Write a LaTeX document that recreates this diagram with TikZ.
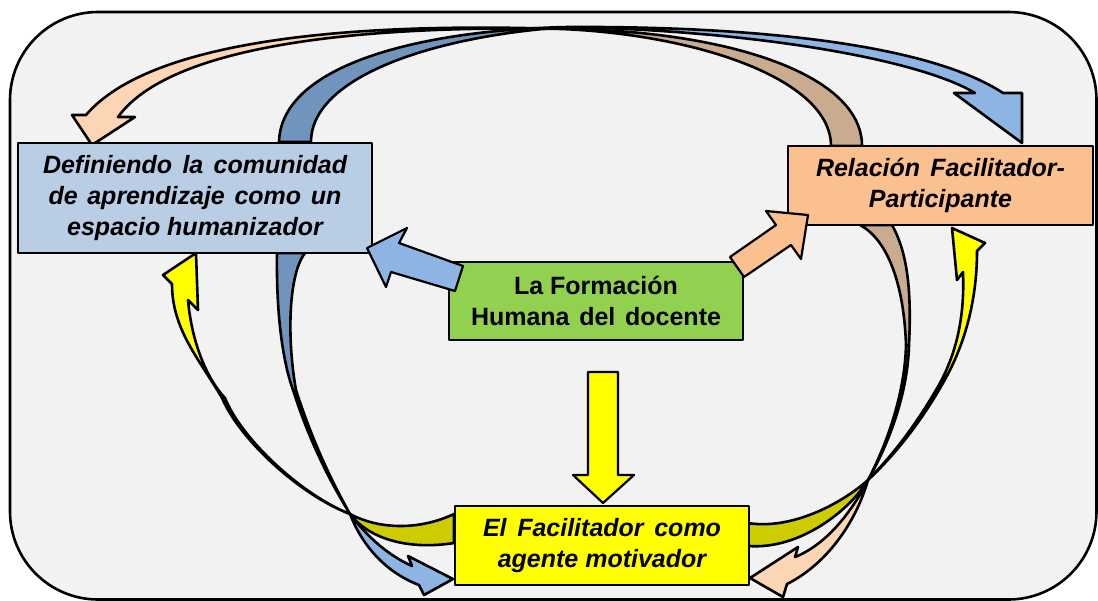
\documentclass[tikz,border=0pt]{standalone}
\usepackage{fontspec}
\setmainfont{Liberation Sans}
\usetikzlibrary{calc}

\definecolor{bggray}{HTML}{F2F2F2}
\definecolor{boxblue}{HTML}{B9CDE5}
\definecolor{boxpeach}{HTML}{FAC090}
\definecolor{boxgreen}{HTML}{92D050}
\definecolor{boxyellow}{HTML}{FFFF00}
\definecolor{frontblue}{HTML}{8EB4E3}
\definecolor{backblue}{HTML}{7194BC}
\definecolor{frontpeach}{HTML}{FCD5B5}
\definecolor{backpeach}{HTML}{C9AB90}
\definecolor{backyellow}{HTML}{CCCC00}

\newcommand{\spreadline}[2]{\makebox[#1][s]{#2}}

\begin{document}
\begin{tikzpicture}[x=1pt, y=-1pt, line join=round]
    \tikzstyle{concept}=[rectangle, draw=black, line width=1.8pt, inner sep=0pt, align=center, font=\bfseries\itshape\fontsize{25}{31}\selectfont]
    \tikzstyle{band}=[draw=black, line width=2.6pt]
    \tikzstyle{block}=[draw=black, line width=2.2pt]
    \useasboundingbox (0,0) rectangle (1098,600);
    \draw[line width=2.6pt, fill=bggray, rounded corners=88pt] (10,12) rectangle (1096.5,599.5);

    \coordinate (topknotA) at (568,27);
    \coordinate (topknotB) at (562,29);
    \coordinate (leftknot) at (350,514);
    \coordinate (rightknot) at (868,480);

    % Relacion -> Definiendo
    \filldraw[band, fill=backpeach] (831,146) .. controls (831,80) and (700,35) .. (topknotB)
        .. controls (720,30) and (862,72) .. (862,146) -- cycle;
    \filldraw[band, fill=frontpeach] (topknotB) .. controls (350,22) and (150,40) .. (86,115)
        -- (72,115) -- (92,145) -- (135,117) -- (118,117) .. controls (170,45) and (360,25) .. (topknotB) -- cycle;
    % Definiendo -> Relacion
    \filldraw[band, fill=backblue] (279,142) .. controls (281,65) and (420,30) .. (topknotA)
        .. controls (440,35) and (311,75) .. (311,142) -- cycle;
    \filldraw[band, fill=frontblue] (topknotA) .. controls (760,26) and (930,45) .. (1003,93)
        -- (1022,93) -- (1022,143) -- (954,93) -- (975,93) .. controls (920,60) and (760,31) .. (topknotA) -- cycle;
    % Facilitador -> Definiendo
    \filldraw[band, fill=backyellow] (454,514) .. controls (420,530) and (380,530) .. (leftknot)
        .. controls (370,540) and (410,550) .. (454,543) -- cycle;
    \filldraw[band, fill=boxyellow] (leftknot) .. controls (300,495) and (240,440) .. (222,398)
        .. controls (200,360) and (172,330) .. (172,284) -- (163,275) -- (196,253) -- (198,310) -- (188,300)
        .. controls (192,345) and (208,380) .. (225,398) .. controls (242,440) and (302,495) .. (leftknot) -- cycle;
    % Definiendo -> Facilitador
    \filldraw[band, fill=backblue] (277,253) .. controls (276,320) and (284,365) .. (293,390)
        .. controls (309,440) and (329,480) .. (leftknot) .. controls (331,480) and (312,440) .. (296,390)
        .. controls (287,340) and (288,275) .. (305,253) -- cycle;
    \filldraw[band, fill=frontblue] (leftknot) .. controls (370,540) and (390,556) .. (412,566)
        -- (408,556) -- (453,579) -- (424,595) -- (419,585) .. controls (385,572) and (362,545) .. (leftknot) -- cycle;
    % Facilitador -> Relacion
    \filldraw[band, fill=backyellow] (748,523) .. controls (790,530) and (840,505) .. (rightknot)
        .. controls (850,510) and (800,550) .. (748,546) -- cycle;
    \filldraw[band, fill=boxyellow] (rightknot) .. controls (900,450) and (925,415) .. (943,383)
        .. controls (965,345) and (977,300) .. (977,251) -- (985,243) -- (952,228) -- (957,280) -- (963,272)
        .. controls (965,320) and (955,355) .. (940,383) .. controls (922,415) and (898,450) .. (rightknot) -- cycle;
    % Relacion -> Facilitador
    \filldraw[band, fill=backpeach] (860,225) .. controls (888,240) and (904,285) .. (906,345)
        .. controls (905,390) and (889,440) .. (rightknot) .. controls (891,440) and (908,390) .. (909,345)
        .. controls (912,285) and (906,250) .. (892,225) -- cycle;
    \filldraw[band, fill=frontpeach] (rightknot) .. controls (850,515) and (825,545) .. (795,557)
        -- (798,547) -- (750,578) -- (783,597) -- (787,584) .. controls (825,565) and (855,525) .. (rightknot) -- cycle;

    \node[concept, fill=boxblue, minimum width=354pt, minimum height=110pt] (definiendo) at (195,198)
        {\spreadline{304pt}{Definiendo la comunidad}\\\spreadline{293pt}{de aprendizaje como un}\\espacio humanizador};
    \node[concept, fill=boxpeach, minimum width=305pt, minimum height=79pt] (relacion) at (940.5,185.5)
        {\spreadline{249pt}{Relación Facilitador-}\\Participante};
    \node[concept, fill=boxgreen, minimum width=294pt, minimum height=78pt, font=\bfseries\fontsize{25}{31}\selectfont] (formacion) at (596,301)
        {La Formación\\\spreadline{250pt}{Humana del docente}};
    \node[concept, fill=boxyellow, minimum width=294pt, minimum height=79pt] (facilitador) at (602,545.5)
        {\spreadline{238pt}{El Facilitador como}\\agente motivador};

    \filldraw[block, fill=frontblue] (463,266) -- (399,243) -- (407,228) -- (367,248) -- (386,287) -- (391,272) -- (455,291) -- cycle;
    \filldraw[block, fill=boxpeach] (730,257) -- (776,225) -- (766,211) -- (808,215) -- (801,259) -- (791,245) -- (744,277) -- cycle;
    \filldraw[block, fill=boxyellow] (588,372) -- (618,372) -- (618,475) -- (634,475) -- (603,503) -- (573,475) -- (588,475) -- cycle;
\end{tikzpicture}
\end{document}
